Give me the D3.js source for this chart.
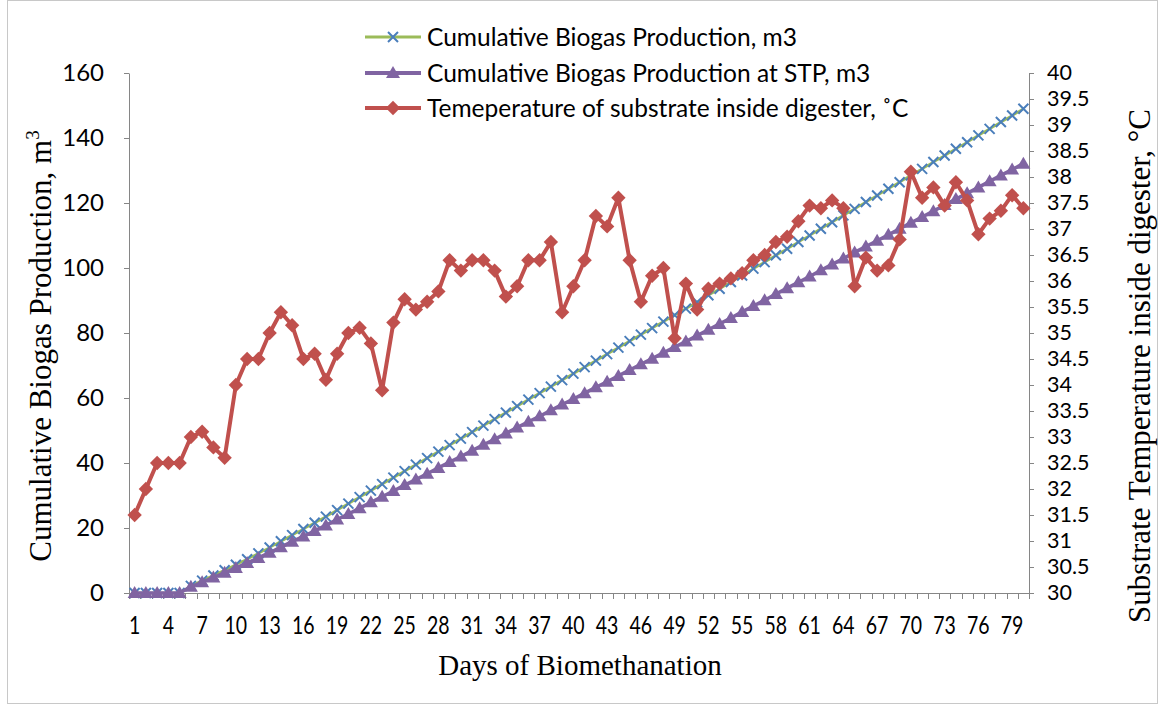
<!DOCTYPE html>
<html><head><meta charset="utf-8">
<script src="https://cdn.jsdelivr.net/npm/d3@7"></script>
<style>body{margin:0;background:#fff}svg{display:block}</style>
</head><body>
<svg id="c" width="1160" height="706"></svg>
<script>
// ---------- data ----------
const days = d3.range(1, 81);
const cumBiogas = [0,0,0,0,0,2.2,3.8,5.4,7.0,8.7,10.4,12.2,14.0,15.9,17.8,19.7,21.6,23.5,25.5,27.5,
  29.5,31.5,33.5,35.5,37.5,39.5,41.5,43.5,45.5,47.5,49.5,51.5,53.5,55.5,57.5,59.5,61.5,63.5,65.5,67.5,
  69.5,71.5,73.5,75.5,77.5,79.5,81.5,83.5,85.5,87.5,89.5,91.6,93.6,95.7,97.7,99.8,101.8,103.9,105.9,108.0,
  110.0,112.1,114.1,116.2,118.2,120.3,122.3,124.4,126.4,128.5,130.5,132.6,134.6,136.7,138.7,140.8,142.8,144.9,146.9,149.0];
const cumBiogasSTP = [0,0,0,0,0,1.9,3.3,4.8,6.2,7.7,9.2,10.8,12.4,14.1,15.8,17.4,19.1,20.8,22.6,24.3,
  26.1,27.9,29.6,31.4,33.2,34.9,36.7,38.5,40.3,42.0,43.8,45.6,47.3,49.1,50.9,52.7,54.4,56.2,58.0,59.7,
  61.5,63.3,65.0,66.8,68.6,70.4,72.1,73.9,75.7,77.4,79.2,81.0,82.8,84.6,86.5,88.3,90.1,92.0,93.8,95.6,
  97.4,99.3,101.1,102.9,104.8,106.6,108.4,110.2,112.1,113.9,115.7,117.5,119.4,121.2,123.0,124.8,126.7,128.5,130.3,132.1];
const temperature = [31.5,32.0,32.5,32.5,32.5,33.0,33.1,32.8,32.6,34.0,
  34.5,34.5,35.0,35.4,35.15,34.5,34.6,34.1,34.6,35.0,
  35.1,34.8,33.9,35.2,35.65,35.45,35.6,35.8,36.4,36.2,
  36.4,36.4,36.2,35.7,35.9,36.4,36.4,36.75,35.4,35.9,
  36.4,37.25,37.05,37.6,36.4,35.6,36.1,36.25,34.9,35.95,
  35.45,35.85,35.95,36.05,36.15,36.4,36.5,36.75,36.85,37.15,
  37.45,37.4,37.55,37.4,35.9,36.45,36.2,36.3,36.8,38.1,
  37.6,37.8,37.45,37.9,37.55,36.9,37.2,37.35,37.65,37.4];
const leftTicks = [0,20,40,60,80,100,120,140,160];
const rightTicks = [30,30.5,31,31.5,32,32.5,33,33.5,34,34.5,35,35.5,36,36.5,37,37.5,38,38.5,39,39.5,40];
const xLabelDays = [1,4,7,10,13,16,19,22,25,28,31,34,37,40,43,46,49,52,55,58,61,64,67,70,73,76,79];
const seriesNames = ["Cumulative Biogas Production, m3","Cumulative Biogas Production at STP, m3","Temeperature of substrate inside digester, \u02daC"];

// ---------- layout ----------
const svg = d3.select("#c");
const L = 129, R = 1029, T = 73, B = 593;
const axisColor = "#868686";
const tickFont = "Lato, 'Open Sans', sans-serif";
const serif = "'Liberation Serif', 'Times New Roman', serif";
const C = {green:"#9BBB59", blue:"#4A7EBB", purple:"#8064A2", red:"#C0504D"};

svg.append("rect").attr("x",7.5).attr("y",0.5).attr("width",1150).attr("height",703)
  .attr("fill","#fff").attr("stroke","#c8c8c8");

const x = d3.scaleBand().domain(days).range([L, R]);
const xc = d => x(d) + x.bandwidth()/2;
const yL = d3.scaleLinear().domain([0,160]).range([B, T]);
const yR = d3.scaleLinear().domain([30,40]).range([B, T]);

// left axis
const gl = svg.append("g").attr("transform",`translate(${L},0)`)
  .call(d3.axisLeft(yL).tickValues(leftTicks).tickSize(5).tickPadding(20).tickSizeOuter(0));
// right axis
const gr = svg.append("g").attr("transform",`translate(${R},0)`)
  .call(d3.axisRight(yR).tickValues(rightTicks).tickSize(5).tickPadding(13).tickSizeOuter(0).tickFormat(d=>String(d)));
[gl,gr].forEach(g=>{
  g.select(".domain").attr("stroke",axisColor);
  g.selectAll(".tick line").attr("stroke",axisColor);
  g.selectAll(".tick text").attr("fill","#000").style("font-family",tickFont);
});
gl.selectAll(".tick text").style("font-size","24px");
gr.selectAll(".tick text").style("font-size","21.5px");

// x axis: line, tick marks at category boundaries, labels
const gx = svg.append("g");
gx.append("line").attr("x1",L).attr("x2",R).attr("y1",B+0.5).attr("y2",B+0.5).attr("stroke",axisColor);
gx.selectAll("line.t").data(days).enter().append("line").attr("class","t")
  .attr("x1",d=>Math.round(x(d))+0.5).attr("x2",d=>Math.round(x(d))+0.5)
  .attr("y1",B).attr("y2",B+6).attr("stroke",axisColor);
gx.append("line").attr("x1",R+0.5).attr("x2",R+0.5).attr("y1",B).attr("y2",B+6).attr("stroke",axisColor);
gx.selectAll("text").data(xLabelDays).enter().append("text")
  .attr("transform",d=>`translate(${xc(d)},634) scale(0.78,1)`)
  .attr("text-anchor","middle").style("font-family",tickFont).style("font-size","25px")
  .text(d=>d);

// series
const lineL = vals => d3.line().x((v,i)=>xc(days[i])).y(v=>yL(v))(vals);
const lineR = vals => d3.line().x((v,i)=>xc(days[i])).y(v=>yR(v))(vals);
const xPath = "M-5,-5L5,5M-5,5L5,-5";
const triPath = "M0,-7L7,5L-7,5Z";
const diaPath = "M0,-7.2L7.2,0L0,7.2L-7.2,0Z";

// series 1
svg.append("path").attr("d",lineL(cumBiogas)).attr("fill","none").attr("stroke",C.green).attr("stroke-width",2.5);
svg.append("g").selectAll("path").data(cumBiogas).enter().append("path")
  .attr("transform",(v,i)=>`translate(${xc(days[i])},${yL(v)})`).attr("d",xPath)
  .attr("stroke",C.blue).attr("stroke-width",2).attr("fill","none");
// series 2
svg.append("path").attr("d",lineL(cumBiogasSTP)).attr("fill","none").attr("stroke",C.purple).attr("stroke-width",3.5);
svg.append("g").selectAll("path").data(cumBiogasSTP).enter().append("path")
  .attr("transform",(v,i)=>`translate(${xc(days[i])},${yL(v)})`).attr("d",triPath).attr("fill",C.purple);
// series 3
svg.append("path").attr("d",lineR(temperature)).attr("fill","none").attr("stroke",C.red).attr("stroke-width",4).attr("stroke-linejoin","round");
svg.append("g").selectAll("path").data(temperature).enter().append("path")
  .attr("transform",(v,i)=>`translate(${xc(days[i])},${yR(v)})`).attr("d",diaPath).attr("fill",C.red);

// legend
const legY = [37,73,108];
const lg = svg.append("g");
seriesNames.forEach((name,i)=>{
  const y = legY[i];
  const col = [C.green,C.purple,C.red][i];
  lg.append("line").attr("x1",365).attr("x2",421).attr("y1",y).attr("y2",y).attr("stroke",col).attr("stroke-width",i===0?3:4);
  if(i===0) lg.append("path").attr("transform",`translate(393,${y})`).attr("d",xPath).attr("stroke",C.blue).attr("stroke-width",2).attr("fill","none");
  if(i===1) lg.append("path").attr("transform",`translate(393,${y})`).attr("d",triPath).attr("fill",C.purple);
  if(i===2) lg.append("path").attr("transform",`translate(393,${y})`).attr("d",diaPath).attr("fill",C.red);
  lg.append("text").attr("x",427).attr("y",y+8.5).style("font-family",tickFont).style("font-size","24.5px").text(name);
});

// axis titles
const lt = svg.append("text").attr("transform","translate(51,346) rotate(-90)").attr("text-anchor","middle")
  .style("font-family",serif).style("font-size","31px");
lt.append("tspan").text("Cumulative Biogas Production, m");
lt.append("tspan").attr("dy",-12).style("font-size","19px").text("3");
svg.append("text").attr("x",580).attr("y",675).attr("text-anchor","middle")
  .style("font-family",serif).style("font-size","29px").text("Days of Biomethanation");
svg.append("text").attr("transform","translate(1150,366) rotate(-90)").attr("text-anchor","middle")
  .style("font-family",serif).style("font-size","31px").text("Substrate Temperature inside digester,  \u00b0C");
</script>
</body></html>
